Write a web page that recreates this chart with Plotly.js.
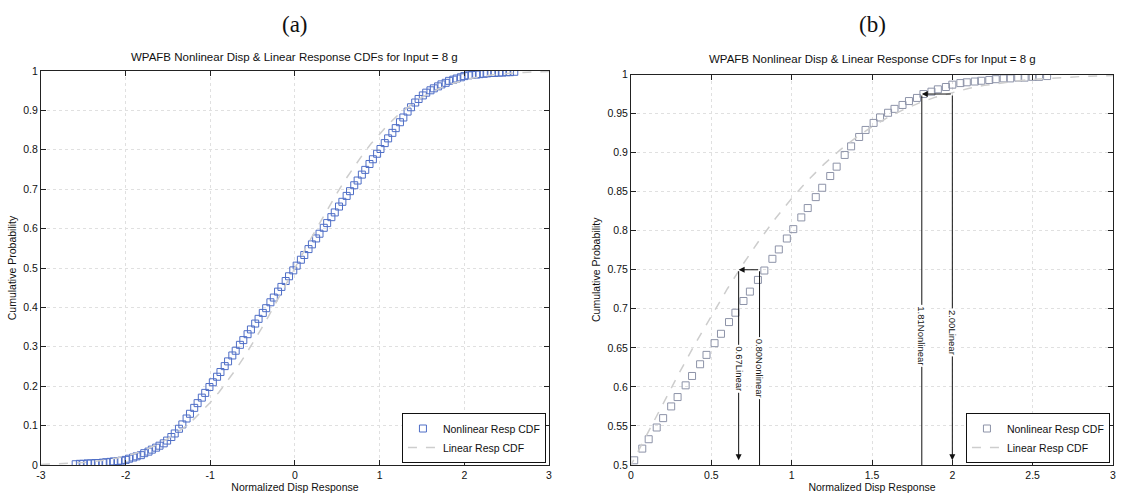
<!DOCTYPE html>
<html>
<head>
<meta charset="utf-8">
<script src="https://cdn.plot.ly/plotly-3.0.1.min.js"></script>
<style>html,body{margin:0;padding:0;background:#fff;}#chart{width:1128px;height:500px;}</style>
</head>
<body>
<div id="chart"></div>
<script>
// Nonlinear response CDF (markers)
const NL_X = [-2.59,-2.54,-2.50,-2.45,-2.41,-2.36,-2.32,-2.27,-2.23,-2.18,-2.14,-2.09,-2.05,-2.00,-1.96,-1.91,-1.87,-1.82,-1.78,-1.73,-1.69,-1.64,-1.60,-1.55,-1.51,-1.46,-1.42,-1.37,-1.33,-1.28,-1.24,-1.19,-1.15,-1.10,-1.06,-1.01,-0.97,-0.92,-0.88,-0.83,-0.79,-0.74,-0.70,-0.65,-0.61,-0.56,-0.52,-0.47,-0.43,-0.38,-0.34,-0.29,-0.25,-0.20,-0.16,-0.11,-0.07,-0.02,
  0.02,0.07,0.11,0.16,0.20,0.25,0.29,0.34,0.38,0.43,0.47,0.52,0.56,0.61,0.65,0.70,0.74,0.79,0.83,0.88,0.92,0.97,1.01,1.06,1.10,1.15,1.19,1.24,1.28,1.33,1.37,1.42,1.46,1.51,1.55,1.60,1.64,1.69,1.73,1.78,1.82,1.87,1.91,1.96,2.00,2.05,2.09,2.14,2.18,2.23,2.27,2.32,2.36,2.41,2.45,2.50,2.54,2.59];
const NL_Y = [0.002,0.003,0.003,0.004,0.004,0.005,0.005,0.006,0.007,0.008,0.009,0.010,0.011,0.013,0.016,0.019,0.022,0.025,0.030,0.034,0.039,0.044,0.049,0.055,0.062,0.071,0.080,0.092,0.103,0.118,0.130,0.145,0.157,0.171,0.183,0.198,0.210,0.224,0.236,0.251,0.263,0.278,0.290,0.305,0.317,0.332,0.344,0.359,0.371,0.386,0.398,0.413,0.425,0.440,0.452,0.467,0.479,0.494,
  0.506,0.521,0.533,0.548,0.560,0.575,0.587,0.602,0.614,0.629,0.641,0.656,0.668,0.683,0.695,0.710,0.722,0.737,0.749,0.764,0.776,0.790,0.802,0.817,0.829,0.843,0.855,0.870,0.882,0.897,0.908,0.920,0.929,0.938,0.945,0.951,0.956,0.961,0.966,0.970,0.975,0.978,0.981,0.984,0.987,0.989,0.990,0.991,0.992,0.993,0.994,0.995,0.995,0.996,0.996,0.997,0.997,0.998];

// Linear response CDF (dashed line)
const LIN_X = [-3.0,-2.9,-2.8,-2.7,-2.6,-2.5,-2.4,-2.3,-2.2,-2.1,-2.0,-1.9,-1.8,-1.7,-1.6,-1.5,-1.4,-1.3,-1.2,-1.1,-1.0,-0.9,-0.8,-0.7,-0.6,-0.5,-0.4,-0.3,-0.2,-0.1,0.0,
  0.1,0.2,0.3,0.4,0.5,0.6,0.7,0.8,0.9,1.0,1.1,1.2,1.3,1.4,1.5,1.6,1.7,1.8,1.9,2.0,2.1,2.2,2.3,2.4,2.5,2.6,2.7,2.8,2.9,3.0];
const LIN_Y = [0.0013,0.0019,0.0026,0.0035,0.0047,0.0062,0.0082,0.0107,0.0139,0.0179,0.0228,0.0287,0.0359,0.0446,0.0548,0.0668,0.0808,0.0968,0.1151,0.1357,0.1587,0.1841,0.2119,0.2420,0.2743,0.3085,0.3446,0.3821,0.4207,0.4602,0.5,
  0.5398,0.5793,0.6179,0.6554,0.6915,0.7257,0.7580,0.7881,0.8159,0.8413,0.8643,0.8849,0.9032,0.9192,0.9332,0.9452,0.9554,0.9641,0.9713,0.9772,0.9821,0.9861,0.9893,0.9918,0.9938,0.9953,0.9965,0.9974,0.9981,0.9987];

// Tick labels
const XA_TICKS = [-3,-2,-1,0,1,2,3];
const XA_LABELS = ['-3','-2','-1','0','1','2','3'];
const YA_TICKS = [0,0.1,0.2,0.3,0.4,0.5,0.6,0.7,0.8,0.9,1];
const XB_TICKS = [0,0.5,1,1.5,2,2.5,3];
const XB_LABELS = ['0','0.5','1','1.5','2','2.5','3'];
const YB_TICKS = [0.5,0.55,0.6,0.65,0.7,0.75,0.8,0.85,0.9,0.95,1];
const YB_LABELS = ['0.5','0.55','0.6','0.65','0.7','0.75','0.8','0.85','0.9','0.95','1'];

// Percentile markers in panel (b)
const P75_LEVEL = 0.75, P75_LIN = 0.67, P75_NL = 0.80;
const P975_LEVEL = 0.975, P975_NL = 1.81, P975_LIN = 2.00;
const B_BOTTOM = 0.5;
const LABEL_75 = ['0.67Linear', '0.80Nonlinear'];
const LABEL_975 = ['1.81Nonlinear', '2.00Linear'];

const TITLE = 'WPAFB Nonlinear Disp & Linear Response CDFs for Input = 8 g';
const FONT = 'Liberation Sans, Arial, sans-serif';

const dA = [0.0363, 0.4867], dB = [0.5594, 0.9867], dYA = [0.07, 0.858], dYB = [0.07, 0.851];

const traces = [
  {x: NL_X, y: NL_Y, xaxis:'x', yaxis:'y', type:'scatter', mode:'markers', name:'Nonlinear Resp CDF',
   marker:{symbol:'square-open', size:7, color:'#4f6ec6', line:{width:1, color:'#4f6ec6'}}, legend:'legend'},
  {x: LIN_X, y: LIN_Y, xaxis:'x', yaxis:'y', type:'scatter', mode:'lines', name:'Linear Resp CDF',
   line:{color:'#cdcdcd', width:1.5, dash:'dash'}, legend:'legend'},
  {x: NL_X, y: NL_Y, xaxis:'x2', yaxis:'y2', type:'scatter', mode:'markers', name:'Nonlinear Resp CDF',
   marker:{symbol:'square-open', size:7, color:'#8d93a8', line:{width:1, color:'#8d93a8'}}, legend:'legend2'},
  {x: LIN_X, y: LIN_Y, xaxis:'x2', yaxis:'y2', type:'scatter', mode:'lines', name:'Linear Resp CDF',
   line:{color:'#cdcdcd', width:1.5, dash:'dash'}, legend:'legend2'}
];

const axBase = {showline:true, linecolor:'#222', linewidth:1, mirror:'ticks', ticks:'inside', ticklen:5,
  tickcolor:'#222', showgrid:true, gridcolor:'#e0e0e0', griddash:'dot', gridwidth:1, zeroline:false,
  tickfont:{family:FONT, size:10.5, color:'#111'}, fixedrange:true};

function arrow(x, y, ax, ay, head) {
  return {xref:'x2', yref:'y2', axref:'x2', ayref:'y2', x:x, y:y, ax:ax, ay:ay, text:'',
    showarrow:true, arrowhead:head ? 2 : 0, arrowsize:1.2, arrowwidth:1, arrowcolor:'#111', standoff:0, startstandoff:0};
}
function vlabel(x, y, txt) {
  return {xref:'x2', yref:'y2', x:x, y:y, text:txt, showarrow:false, textangle:90,
    bgcolor:'#ffffff', font:{family:FONT, size:9.5, color:'#111'}, borderpad:1};
}
function paperText(x, y, txt, font) {
  return {xref:'paper', yref:'paper', x:x, y:y, xanchor:'center', yanchor:'middle', text:txt, showarrow:false, font:font};
}

const serif = {family:'Liberation Serif, Times New Roman, serif', size:23, color:'#111'};
const titleFont = {family:FONT, size:11.5, color:'#111'};

const annotations = [
  paperText((dA[0]+dA[1])/2, 1 - 24/500, '(a)', serif),
  paperText((dB[0]+dB[1])/2, 1 - 24/500, '(b)', serif),
  paperText((dA[0]+dA[1])/2, 1 - 57/500, TITLE, titleFont),
  paperText((dB[0]+dB[1])/2, 1 - 59/500, TITLE, titleFont),
  // 75th percentile
  arrow(P75_LIN, B_BOTTOM + 0.006, P75_LIN, P75_LEVEL, true),
  arrow(P75_NL, B_BOTTOM, P75_NL, P75_LEVEL, false),
  arrow(P75_LIN, P75_LEVEL, P75_NL, P75_LEVEL, true),
  // 97.5th percentile
  arrow(P975_NL, B_BOTTOM, P975_NL, P975_LEVEL, false),
  arrow(P975_LIN, B_BOTTOM + 0.006, P975_LIN, P975_LEVEL, true),
  arrow(P975_NL, P975_LEVEL, P975_LIN, P975_LEVEL, true),
  vlabel(P75_LIN, 0.623, LABEL_75[0]),
  vlabel(P75_NL, 0.624, LABEL_75[1]),
  vlabel(P975_NL, 0.665, LABEL_975[0]),
  vlabel(P975_LIN, 0.67, LABEL_975[1])
];

const axTitleFont = {family:FONT, size:10.5, color:'#111'};

const layout = {
  width:1128, height:500, margin:{l:0, r:0, t:0, b:0}, paper_bgcolor:'#fff', plot_bgcolor:'#fff',
  font:{family:FONT, size:10, color:'#111'},
  xaxis: Object.assign({}, axBase, {domain:dA, anchor:'y', range:[-3,3], tickmode:'array', tickvals:XA_TICKS, ticktext:XA_LABELS,
    title:{text:'Normalized Disp Response', font:axTitleFont, standoff:3}}),
  yaxis: Object.assign({}, axBase, {domain:dYA, anchor:'x', range:[0,1], tickmode:'array', tickvals:YA_TICKS,
    title:{text:'Cumulative Probability', font:axTitleFont, standoff:4}}),
  xaxis2: Object.assign({}, axBase, {domain:dB, anchor:'y2', range:[0,3], tickmode:'array', tickvals:XB_TICKS, ticktext:XB_LABELS,
    title:{text:'Normalized Disp Response', font:axTitleFont, standoff:3}}),
  yaxis2: Object.assign({}, axBase, {domain:dYB, anchor:'x2', range:[0.5,1], tickmode:'array', tickvals:YB_TICKS, ticktext:YB_LABELS,
    title:{text:'Cumulative Probability', font:axTitleFont, standoff:4}}),
  legend:{x:0.484, xanchor:'right', y:0.074, yanchor:'bottom', bgcolor:'#fff', bordercolor:'#111', borderwidth:1,
    font:{family:FONT, size:10.5, color:'#111'}, tracegroupgap:0, itemwidth:30},
  legend2:{x:0.984, xanchor:'right', y:0.074, yanchor:'bottom', bgcolor:'#fff', bordercolor:'#111', borderwidth:1,
    font:{family:FONT, size:10.5, color:'#111'}, tracegroupgap:0, itemwidth:30},
  showlegend:true,
  annotations: annotations
};

Plotly.newPlot('chart', traces, layout, {displayModeBar:false, staticPlot:true});
</script>
</body>
</html>
